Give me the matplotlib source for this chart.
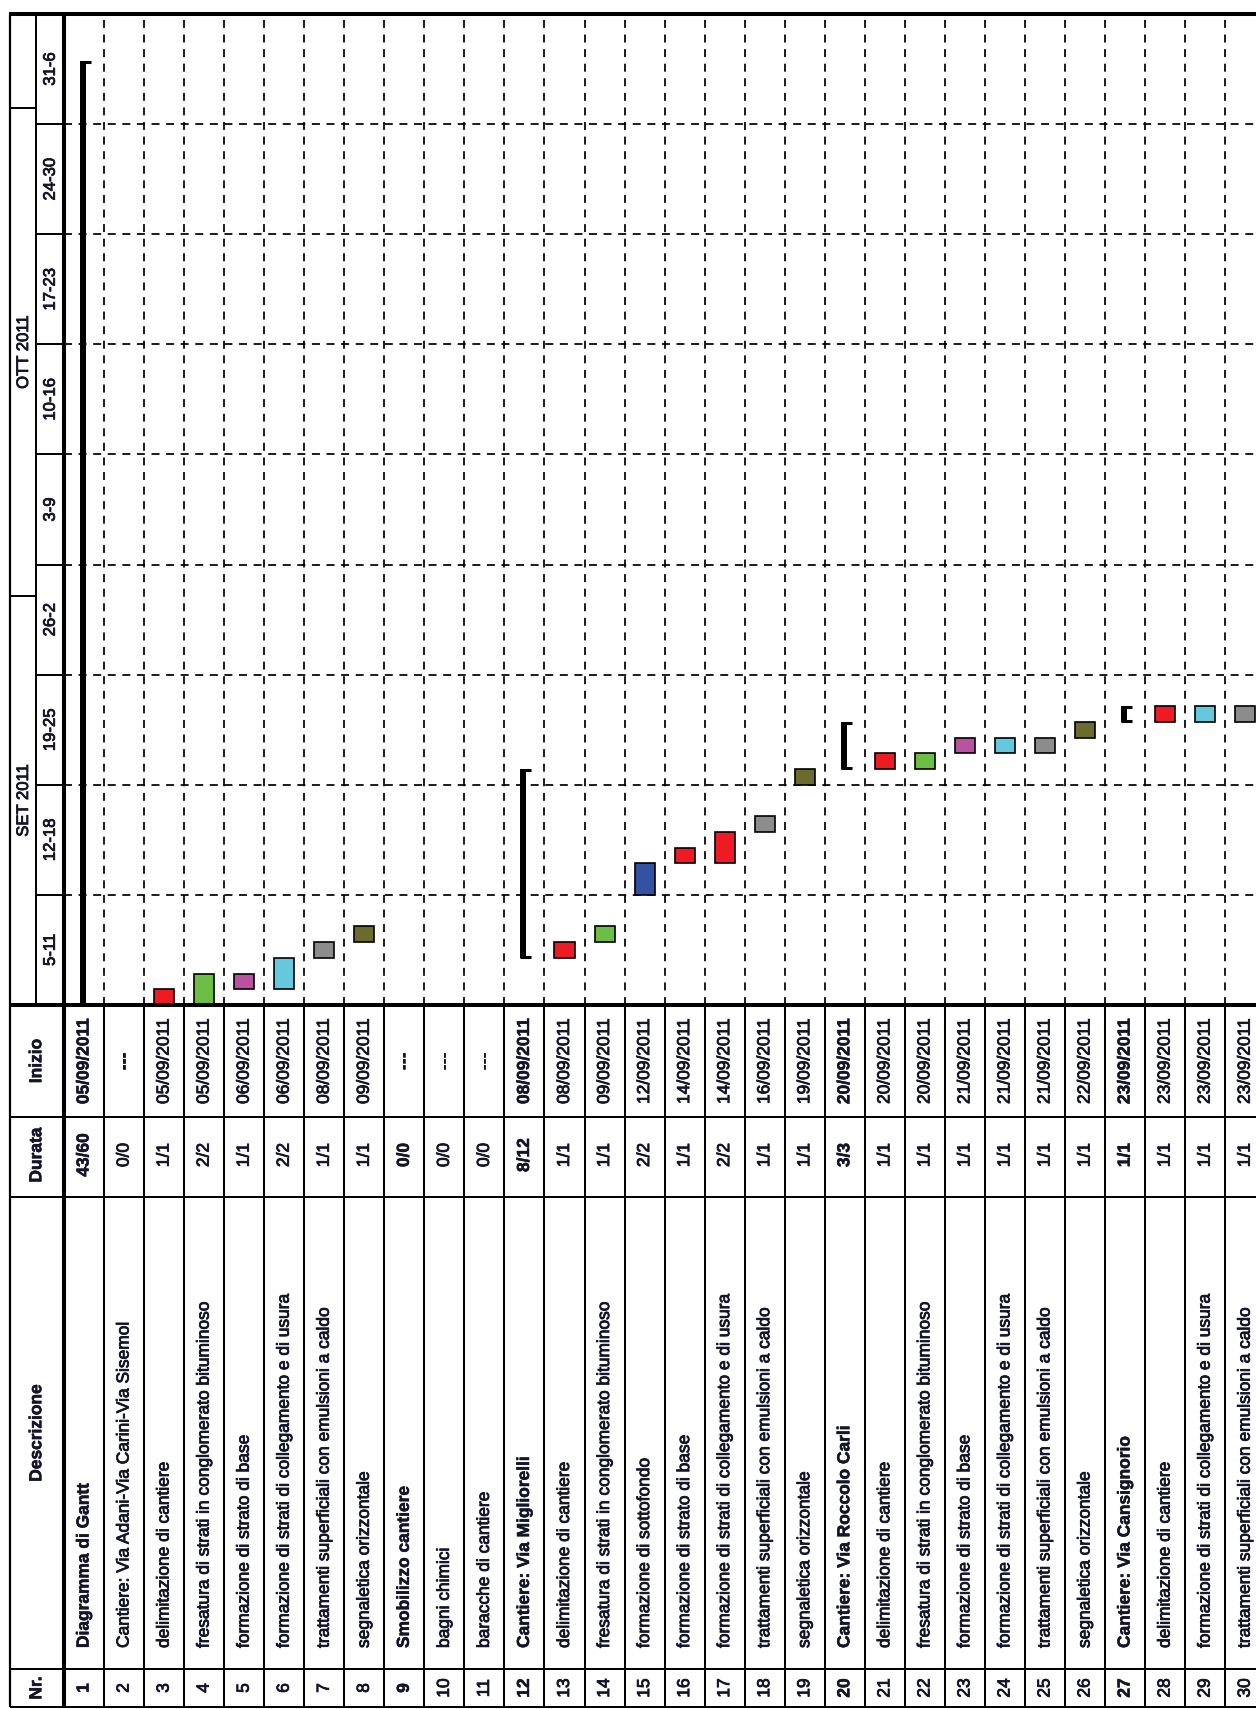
import matplotlib
matplotlib.use("Agg")
import matplotlib.pyplot as plt
import matplotlib.patheffects as pe

plt.rcParams['font.family'] = ['Liberation Sans', 'DejaVu Sans']

# ---------------- data ----------------
task_nr = list(range(1, 31))
descrizione = [
    "Diagramma di Gantt",
    "Cantiere: Via Adani-Via Carini-Via Sisemol",
    "delimitazione di cantiere",
    "fresatura di strati in conglomerato bituminoso",
    "formazione di strato di base",
    "formazione di strati di collegamento e di usura",
    "trattamenti superficiali con emulsioni a caldo",
    "segnaletica orizzontale",
    "Smobilizzo cantiere",
    "bagni chimici",
    "baracche di cantiere",
    "Cantiere: Via Migliorelli",
    "delimitazione di cantiere",
    "fresatura di strati in conglomerato bituminoso",
    "formazione di sottofondo",
    "formazione di strato di base",
    "formazione di strati di collegamento e di usura",
    "trattamenti superficiali con emulsioni a caldo",
    "segnaletica orizzontale",
    "Cantiere: Via Roccolo Carli",
    "delimitazione di cantiere",
    "fresatura di strati in conglomerato bituminoso",
    "formazione di strato di base",
    "formazione di strati di collegamento e di usura",
    "trattamenti superficiali con emulsioni a caldo",
    "segnaletica orizzontale",
    "Cantiere: Via Cansignorio",
    "delimitazione di cantiere",
    "formazione di strati di collegamento e di usura",
    "trattamenti superficiali con emulsioni a caldo",
]
durata = ["43/60", "0/0", "1/1", "2/2", "1/1", "2/2", "1/1", "1/1", "0/0", "0/0",
          "0/0", "8/12", "1/1", "1/1", "2/2", "1/1", "2/2", "1/1", "1/1", "3/3",
          "1/1", "1/1", "1/1", "1/1", "1/1", "1/1", "1/1", "1/1", "1/1", "1/1"]
inizio = ["05/09/2011", "---", "05/09/2011", "05/09/2011", "06/09/2011", "06/09/2011",
          "08/09/2011", "09/09/2011", "---", "---", "---", "08/09/2011", "08/09/2011",
          "09/09/2011", "12/09/2011", "14/09/2011", "14/09/2011", "16/09/2011",
          "19/09/2011", "20/09/2011", "20/09/2011", "20/09/2011", "21/09/2011",
          "21/09/2011", "21/09/2011", "22/09/2011", "23/09/2011", "23/09/2011",
          "23/09/2011", "23/09/2011"]
bold_rows = [1, 9, 12, 20, 27]

# bars: start day (days since 05/09/2011) and length in days
summary_rows = [1, 12, 20, 27]
summary_start = [0, 3, 15, 18]
summary_len = [60, 12, 3, 1]

task_rows = [3, 4, 5, 6, 7, 8, 13, 14, 15, 16, 17, 18, 19, 21, 22, 23, 24, 25, 26, 28, 29, 30]
task_start = [0, 0, 1, 1, 3, 4, 3, 4, 7, 9, 9, 11, 14, 15, 15, 16, 16, 16, 17, 18, 18, 18]
task_len = [1, 2, 1, 2, 1, 1, 1, 1, 2, 1, 2, 1, 1, 1, 1, 1, 1, 1, 1, 1, 1, 1]
task_color = ["#ED1C24", "#6CBE45", "#B9529F", "#65C8DC", "#8C8C8C", "#6B6B2E",
              "#ED1C24", "#6CBE45", "#3452A4", "#ED1C24", "#ED1C24", "#8C8C8C",
              "#6B6B2E", "#ED1C24", "#6CBE45", "#B9529F", "#65C8DC", "#8C8C8C",
              "#6B6B2E", "#ED1C24", "#65C8DC", "#8C8C8C"]

week_labels = ["5-11", "12-18", "19-25", "26-2", "3-9", "10-16", "17-23", "24-30", "31-6"]
month_labels = ["SET 2011", "OTT 2011", ""]
month_start = [0, 26, 57]
month_end = [26, 57, 63]
table_headers = ["Inizio", "Durata", "Descrizione", "Nr."]

# ---------------- layout (pixels) ----------------
W, H = 1256, 1709
X_OUT, X_MID, X_HEAD = 10, 36, 63.5
CH_L = 64
ROW_W = 40.04
CH_R = CH_L + len(task_nr) * ROW_W
TOP, CH_B, TAB_B = 14, 1005, 1707
COL_BOUNDS = [1117, 1197, 1669]          # absolute y of table column lines
COL_CENTERS = [1061, 1155, 1433, 1688]
DESC_BASE = 1648
N_DAYS = 63

TXT = '#15152a'
FS = 12.5
HEAVY = [pe.withStroke(linewidth=0.6, foreground=TXT)]
HEAVY_B = [pe.withStroke(linewidth=0.4, foreground=TXT)]

fig = plt.figure(figsize=(W / 100, H / 100), dpi=100)


def frac(x0, y0, x1, y1):
    return [x0 / W, 1 - y1 / H, (x1 - x0) / W, (y1 - y0) / H]


dash = (0, (4.6, 3.8))

# ---- chart area ----
ax = fig.add_axes(frac(CH_L, TOP, CH_R, CH_B))
ax.set_xlim(0.5, len(task_nr) + 0.5)
ax.set_ylim(0, N_DAYS)
ax.axis('off')
for b in range(1, len(task_nr)):
    ax.axvline(b + 0.5, color='black', lw=1.25, ls=dash, zorder=1)
for k in range(1, len(week_labels)):
    ax.axhline(7 * k, color='black', lw=1.25, ls=dash, zorder=1)

ax.bar(task_rows, task_len, bottom=task_start, width=0.5, color=task_color,
       edgecolor='black', linewidth=1.2, zorder=3)

sr = [r - 0.03 for r in summary_rows]
ax.bar(sr, summary_len, bottom=summary_start, width=0.15, color='black',
       linewidth=0, zorder=4)
for r, s, n in zip(summary_rows, summary_start, summary_len):
    ax.hlines([s + 0.08, s + n - 0.08], r - 0.1, r + 0.17, color='black', lw=2.2, zorder=4)

# ---- chart header (months / weeks) ----
axh = fig.add_axes(frac(X_OUT, TOP, X_HEAD, CH_B))
axh.set_xlim(X_OUT, X_HEAD)
axh.set_ylim(0, N_DAYS)
axh.axis('off')
axh.vlines(X_MID, 0, N_DAYS, color='black', lw=1.4)
for k in range(1, len(week_labels)):
    axh.hlines(7 * k, X_MID, X_HEAD, color='black', lw=1.4)
for k, lab in enumerate(week_labels):
    axh.text((X_MID + X_HEAD) / 2 + 0.5, 7 * k + 3.5, lab, rotation=90, ha='center',
             va='center', fontsize=FS - 0.5, color=TXT, path_effects=HEAVY)
for s, e, lab in zip(month_start, month_end, month_labels):
    if s > 0:
        axh.hlines(s, X_OUT, X_MID, color='black', lw=1.4)
    if lab:
        axh.text((X_OUT + X_MID) / 2 + 0.5, (s + e) / 2, lab, rotation=90, ha='center',
                 va='center', fontsize=FS - 0.5, color=TXT, path_effects=HEAVY)

# ---- table ----
axt = fig.add_axes(frac(CH_L, CH_B, CH_R, TAB_B))
axt.set_xlim(0.5, len(task_nr) + 0.5)
axt.set_ylim(TAB_B, CH_B)
axt.axis('off')
for b in range(1, len(task_nr)):
    axt.vlines(b + 0.5, CH_B, TAB_B, color='black', lw=1.45)

for i, r in enumerate(task_nr):
    isb = r in bold_rows
    kw = dict(rotation=90, ha='center', fontsize=FS, color=TXT,
              weight='bold' if isb else 'normal',
              path_effects=HEAVY_B if isb else HEAVY)
    axt.text(r, COL_CENTERS[0], inizio[i], va='center', **kw)
    axt.text(r, COL_CENTERS[1], durata[i], va='center', **kw)
    axt.text(r, DESC_BASE, descrizione[i], va='bottom', **kw)
    axt.text(r, COL_CENTERS[3], str(r), va='center', **kw)

# table header column
axth = fig.add_axes(frac(X_OUT, CH_B, X_HEAD, TAB_B))
axth.set_xlim(X_OUT, X_HEAD)
axth.set_ylim(TAB_B, CH_B)
axth.axis('off')
for lab, yc in zip(table_headers, COL_CENTERS):
    axth.text((X_OUT + X_HEAD) / 2, yc, lab, rotation=90, ha='center', va='center',
              fontsize=FS, color=TXT, weight='bold', path_effects=HEAVY_B)

# ---- frame lines ----
axf = fig.add_axes([0, 0, 1, 1], zorder=10)
axf.set_xlim(0, W)
axf.set_ylim(H, 0)
axf.axis('off')
axf.patch.set_alpha(0)
axf.hlines(TOP, X_OUT - 1, W, color='black', lw=2.9)
axf.vlines(X_OUT, TOP, TAB_B, color='black', lw=1.6)
axf.vlines(X_HEAD, TOP, TAB_B, color='black', lw=2.9)
axf.hlines(CH_B, X_OUT, W, color='black', lw=2.9)
axf.hlines(COL_BOUNDS, X_OUT, W, color='black', lw=1.45)
axf.hlines(TAB_B, X_OUT, W, color='black', lw=1.45)

fig.savefig("out.png", dpi=100)
